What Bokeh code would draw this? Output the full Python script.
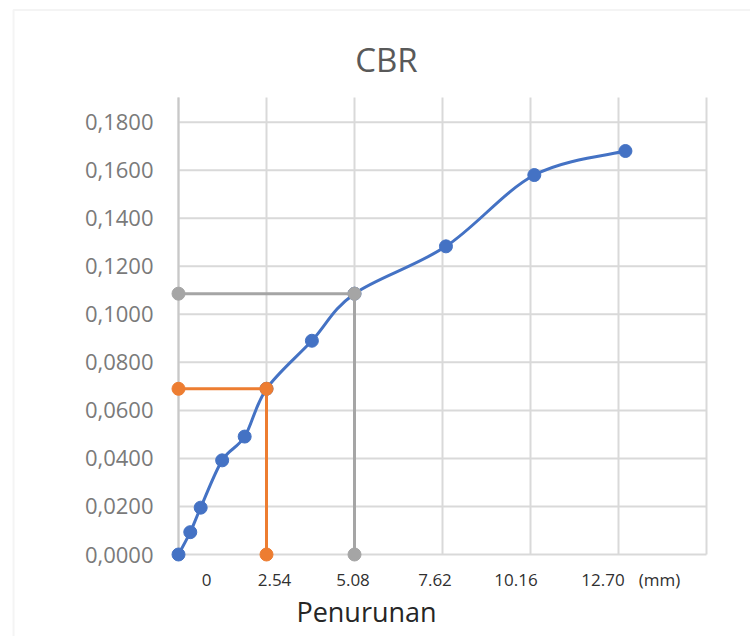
import numpy as np
from bokeh.plotting import figure
from bokeh.models import Label, BoxAnnotation
from bokeh.core.properties import value
from bokeh.embed import file_html
from bokeh.resources import INLINE

# ---------------- data ----------------
penetration_mm = [0.0, 0.34, 0.64, 1.26, 1.91, 2.54, 3.85, 5.08, 7.72, 10.27, 12.90]
load = [0.0, 0.0093, 0.0195, 0.0392, 0.0491, 0.0690, 0.0890, 0.1086, 0.1283, 0.1580, 0.1680]

orange_x = [0.0, 2.54, 2.54]
orange_y = [0.0690, 0.0690, 0.0]

gray_x = [0.0, 5.08, 5.08]
gray_y = [0.1086, 0.1086, 0.0]

x_grid = [0.0, 2.54, 5.08, 7.62, 10.16, 12.70, 15.24]
y_ticks = [0.0, 0.02, 0.04, 0.06, 0.08, 0.10, 0.12, 0.14, 0.16, 0.18]
y_tick_labels = ["0,0000", "0,0200", "0,0400", "0,0600", "0,0800",
                 "0,1000", "0,1200", "0,1400", "0,1600", "0,1800"]
x_tick_labels = ["0", "2.54", "5.08", "7.62", "10.16", "12.70"]
x_unit_label = "(mm)"
title_text = "CBR"
x_title = "Penurunan"

# ---------------- layout constants ----------------
FONT = "Open Sans"
# frame covers the whole canvas; ranges chosen so the plot area sits where it should
X_START, X_END = -5.1377, 16.5098
Y_START, Y_END = -0.034142, 0.230670
GRID_TOP = 0.19028
x_label_pos = [0.814, 2.771, 5.037, 7.404, 9.742, 12.253]
x_unit_pos = 13.881
x_label_y = -0.01041

p = figure(width=750, height=636, output_backend="svg", toolbar_location=None,
           x_range=(X_START, X_END), y_range=(Y_START, Y_END),
           x_axis_location=None, y_axis_location=None,
           min_border=0, title=None)
p.outline_line_color = None
p.background_fill_color = "white"
p.border_fill_color = "white"
p.xgrid.visible = False
p.ygrid.visible = False

# grid lines
xmin, xmax = x_grid[0], x_grid[-1]
p.segment(x0=[xmin] * len(y_ticks), x1=[xmax] * len(y_ticks), y0=y_ticks, y1=y_ticks,
          line_color="#d9d9d9", line_width=2)
p.segment(x0=x_grid, x1=x_grid, y0=[0.0] * len(x_grid), y1=[GRID_TOP] * len(x_grid),
          line_color="#d9d9d9", line_width=2)
p.segment(x0=[xmin], x1=[xmin], y0=[0.0], y1=[GRID_TOP], line_color="#c8c8c8", line_width=2)

# y tick labels
p.text(x=[xmin] * len(y_ticks), y=y_ticks, text=y_tick_labels, x_offset=-25,
       text_align="right", text_baseline="middle", text_font=value(FONT),
       text_font_size="22px", text_color="#7a7a7a")

# smooth blue curve (Excel-style smoothing: cubic Bezier through the points)
px = np.array(penetration_mm)
py = np.array(load)
n = len(px)
ext_x = np.concatenate([[px[0]], px, [px[-1]]])
ext_y = np.concatenate([[py[0]], py, [py[-1]]])
cx0 = px[:-1] + (ext_x[2:n + 1] - ext_x[0:n - 1]) / 6.0
cy0 = py[:-1] + (ext_y[2:n + 1] - ext_y[0:n - 1]) / 6.0
cx1 = px[1:] - (ext_x[3:n + 2] - ext_x[1:n]) / 6.0
cy1 = py[1:] - (ext_y[3:n + 2] - ext_y[1:n]) / 6.0
p.bezier(x0=px[:-1], y0=py[:-1], x1=px[1:], y1=py[1:],
         cx0=cx0, cy0=cy0, cx1=cx1, cy1=cy1, line_color="#4472C4", line_width=3)
p.scatter(penetration_mm, load, size=13, fill_color="#4472C4", line_color="#4472C4")

# orange helper
p.line(orange_x, orange_y, line_color="#ED7D31", line_width=3)
p.scatter(orange_x, orange_y, size=13, fill_color="#ED7D31", line_color="#ED7D31")

# gray helper
p.line(gray_x, gray_y, line_color="#A5A5A5", line_width=3)
p.scatter(gray_x, gray_y, size=13, fill_color="#A5A5A5", line_color="#A5A5A5")

# x tick labels (text-box style, as in the original)
p.text(x=x_label_pos + [x_unit_pos], y=[x_label_y] * (len(x_tick_labels) + 1),
       text=x_tick_labels + [x_unit_label],
       text_align="center", text_baseline="middle", text_font=value(FONT),
       text_font_size="17px", text_color="#303030")

# title and axis title
p.add_layout(Label(x=386, y=577, x_units="screen", y_units="screen", text=title_text,
                   text_align="center", text_baseline="middle",
                   text_font=FONT, text_font_size="33px", text_color="#595959"))
p.add_layout(Label(x=366, y=25, x_units="screen", y_units="screen", text=x_title,
                   text_align="center", text_baseline="middle",
                   text_font=FONT, text_font_size="27px", text_color="#262626"))

# outer chart border (only left and top edges fall inside the window)
p.add_layout(BoxAnnotation(left=-4.7625, right=40, top=0.22672, bottom=-1,
                           fill_alpha=0, line_color="#d9d9d9", line_width=2))

open("out.html", "w").write(file_html(p, INLINE))
